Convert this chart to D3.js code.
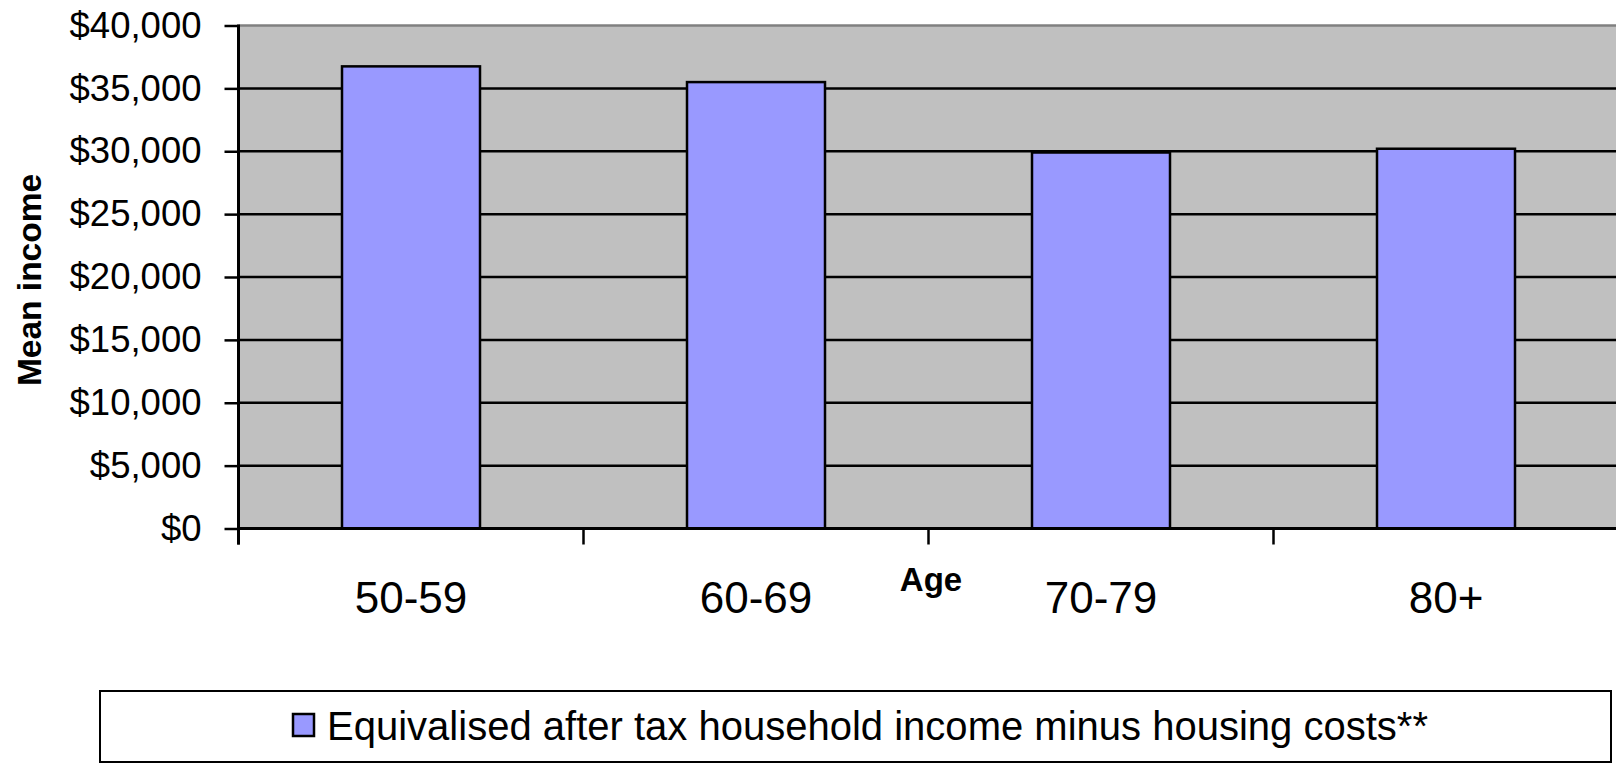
<!DOCTYPE html>
<html>
<head>
<meta charset="utf-8">
<script src="https://cdn.jsdelivr.net/npm/d3@7"></script>
<style>
  html, body { margin: 0; padding: 0; background: #ffffff; }
  svg { display: block; }
  text { font-family: "Liberation Sans", Arial, sans-serif; fill: #000; }
</style>
</head>
<body>
<svg id="chart" width="1616" height="764"></svg>
<script>
// ---- data ----
const categories = ["50-59", "60-69", "70-79", "80+"];
const values = [36750, 35500, 29900, 30200];
const yTicks = [0, 5000, 10000, 15000, 20000, 25000, 30000, 35000, 40000];
const seriesName = "Equivalised after tax household income minus housing costs**";
const xTitle = "Age";
const yTitle = "Mean income";

// ---- layout ----
const svg = d3.select("#chart");
const plot = { left: 238.5, right: 1618.5, top: 25.5, bottom: 528.5 };

const x = d3.scaleBand()
  .domain(categories)
  .range([plot.left, plot.right])
  .paddingInner(0.6)
  .paddingOuter(0.3);

const y = d3.scaleLinear()
  .domain([0, 40000])
  .range([plot.bottom, plot.top]);

// plot background
svg.append("rect")
  .attr("x", plot.left).attr("y", plot.top)
  .attr("width", plot.right - plot.left).attr("height", plot.bottom - plot.top)
  .attr("fill", "#c0c0c0");

// top border (gray)
svg.append("line")
  .attr("x1", plot.left).attr("x2", plot.right)
  .attr("y1", y(40000)).attr("y2", y(40000))
  .attr("stroke", "#808080").attr("stroke-width", 2.5);

// gridlines
svg.append("g").selectAll("line")
  .data(yTicks.filter(d => d > 0 && d < 40000))
  .join("line")
  .attr("x1", plot.left).attr("x2", plot.right)
  .attr("y1", d => y(d)).attr("y2", d => y(d))
  .attr("stroke", "#000").attr("stroke-width", 2.5);

// bars
svg.append("g").selectAll("rect")
  .data(categories.map((c, i) => ({ c, v: values[i] })))
  .join("rect")
  .attr("x", d => x(d.c))
  .attr("y", d => y(d.v))
  .attr("width", x.bandwidth())
  .attr("height", d => y(0) - y(d.v))
  .attr("fill", "#9999ff")
  .attr("stroke", "#000")
  .attr("stroke-width", 2.5);

// y axis
const yAxis = d3.axisLeft(y)
  .tickValues(yTicks)
  .tickSize(14)
  .tickPadding(23)
  .tickFormat(d3.format("$,"));
const gy = svg.append("g")
  .attr("transform", `translate(${plot.left},0)`)
  .call(yAxis);
gy.select(".domain").remove();
gy.selectAll(".tick line").attr("stroke", "#000").attr("stroke-width", 2.5);
gy.selectAll(".tick text")
  .attr("font-size", 36.5)
  .attr("font-family", "'Liberation Sans', Arial, sans-serif")
  .attr("fill", "#000");
svg.append("line")
  .attr("x1", plot.left).attr("x2", plot.left)
  .attr("y1", plot.top - 1).attr("y2", plot.bottom + 16)
  .attr("stroke", "#000").attr("stroke-width", 3);

// x axis
const xAxis = d3.axisBottom(x).tickSize(0).tickPadding(0);
const gx = svg.append("g")
  .attr("transform", `translate(0,${plot.bottom})`)
  .call(xAxis);
gx.select(".domain").remove();
gx.selectAll(".tick text")
  .attr("y", 84.5)
  .attr("dy", 0)
  .attr("font-size", 44)
  .attr("font-family", "'Liberation Sans', Arial, sans-serif")
  .attr("fill", "#000");
svg.append("line")
  .attr("x1", plot.left).attr("x2", plot.right)
  .attr("y1", plot.bottom).attr("y2", plot.bottom)
  .attr("stroke", "#000").attr("stroke-width", 3);
// category separator ticks
svg.append("g").selectAll("line")
  .data(d3.range(categories.length + 1))
  .join("line")
  .attr("x1", i => plot.left + i * x.step())
  .attr("x2", i => plot.left + i * x.step())
  .attr("y1", plot.bottom)
  .attr("y2", plot.bottom + 16)
  .attr("stroke", "#000").attr("stroke-width", 2.5);

// axis titles
svg.append("text")
  .attr("x", 931).attr("y", 591)
  .attr("text-anchor", "middle")
  .attr("font-size", 33).attr("font-weight", "bold")
  .text(xTitle);

svg.append("text")
  .attr("transform", "translate(41,280) rotate(-90)")
  .attr("text-anchor", "middle")
  .attr("font-size", 33.5).attr("font-weight", "bold")
  .text(yTitle);

// legend
const legend = svg.append("g");
legend.append("rect")
  .attr("x", 100).attr("y", 691)
  .attr("width", 1511).attr("height", 71)
  .attr("fill", "#fff").attr("stroke", "#000").attr("stroke-width", 2);
legend.append("rect")
  .attr("x", 293).attr("y", 714)
  .attr("width", 21).attr("height", 22)
  .attr("fill", "#9999ff").attr("stroke", "#000").attr("stroke-width", 2.5);
legend.append("text")
  .attr("x", 327).attr("y", 740)
  .attr("font-size", 40)
  .attr("textLength", 1101)
  .attr("lengthAdjust", "spacingAndGlyphs")
  .text(seriesName);
</script>
</body>
</html>
